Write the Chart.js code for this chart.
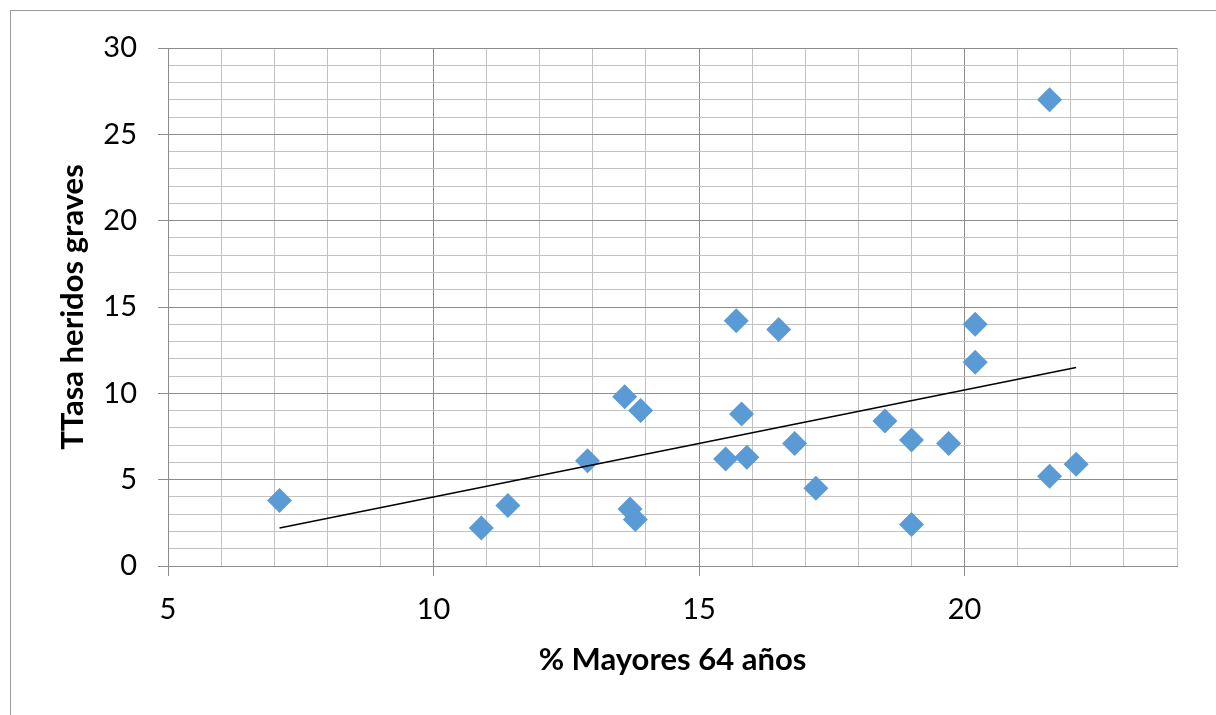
<!DOCTYPE html>
<html>
<head>
<meta charset="utf-8">
<script src="https://cdn.jsdelivr.net/npm/chart.js@4.4.0/dist/chart.umd.min.js"></script>
<style>
  html, body { margin: 0; padding: 0; background: #fff; overflow: hidden; }
  #wrap { position: relative; width: 1216px; height: 715px; }
  #frame { position: absolute; left: 10px; top: 10px; width: 1300px; height: 800px; border: 1px solid #9a9a9a; }
  canvas { position: absolute; left: 0; top: 0; }
</style>
</head>
<body>
<div id="wrap">
  <div id="frame"></div>
  <canvas id="chart" width="1216" height="715"></canvas>
</div>
<script>
// % mayores de 64 años por provincia y tasa de heridos graves
const mayores64 = [7.1, 10.9, 11.4, 12.9, 13.6, 13.9, 13.7, 13.8, 15.5, 15.9, 15.7, 16.5,
                   15.8, 16.8, 17.2, 18.5, 19.0, 19.7, 19.0, 20.2, 20.2, 21.6, 22.1, 21.6];
const heridosGraves = [3.8, 2.2, 3.5, 6.1, 9.8, 9.0, 3.3, 2.7, 6.2, 6.3, 14.2, 13.7,
                       8.8, 7.1, 4.5, 8.4, 7.3, 7.1, 2.4, 14.0, 11.8, 27.0, 5.9, 5.2];

// linea de tendencia (extremos)
const trendX = [7.1, 22.1];
const trendY = [2.2, 11.5];

const font = 'Lato, "Open Sans", sans-serif';
const gridMajor = '#8c8c8c';
const gridMinor = '#c2c2c2';

const gridColor = (ctx) => (ctx.tick && ctx.tick.value % 5 === 0) ? gridMajor : gridMinor;
const tickColor = (ctx) => (ctx.tick && ctx.tick.value % 5 === 0) ? gridMajor : 'rgba(0,0,0,0)';
const majorLabel = (v) => (v % 5 === 0 ? v : '');

new Chart(document.getElementById('chart'), {
  type: 'scatter',
  data: {
    datasets: [
      {
        type: 'line',
        data: trendX.map((x, i) => ({ x, y: trendY[i] })),
        borderColor: '#000',
        borderWidth: 1.5,
        pointRadius: 0,
        fill: false,
      },
      {
        data: mayores64.map((x, i) => ({ x, y: heridosGraves[i] })),
        pointStyle: 'rectRot',
        pointRadius: 12.5,
        pointBackgroundColor: '#5b9bd5',
        pointBorderWidth: 0,
      },
    ],
  },
  options: {
    responsive: false,
    animation: false,
    devicePixelRatio: 1,
    layout: { padding: { left: 0, right: 39, top: 48, bottom: 0 } },
    plugins: {
      legend: { display: false },
      tooltip: { enabled: false },
    },
    scales: {
      x: {
        type: 'linear',
        min: 5,
        max: 24,
        afterFit: (s) => { s.height = 149; },
        border: { color: gridMajor, width: 1 },
        grid: { color: gridColor, tickColor: tickColor, tickLength: 10, lineWidth: 1 },
        ticks: {
          stepSize: 1,
          autoSkip: false,
          maxRotation: 0,
          padding: 16,
          color: '#000',
          font: { family: font, size: 29 },
          callback: majorLabel,
        },
        title: {
          display: true,
          text: '% Mayores 64 años',
          color: '#000',
          font: { family: font, size: 31, weight: 'bold' },
          padding: { top: 0, bottom: 36 },
        },
      },
      y: {
        min: 0,
        max: 30,
        afterFit: (s) => { s.width = 168; },
        border: { color: gridMajor, width: 1 },
        grid: { color: gridColor, tickColor: tickColor, tickLength: 10, lineWidth: 1 },
        ticks: {
          stepSize: 1,
          autoSkip: false,
          padding: 21,
          color: '#000',
          font: { family: font, size: 29 },
          callback: majorLabel,
        },
        title: {
          display: true,
          text: 'TTasa heridos graves',
          color: '#000',
          font: { family: font, size: 31, weight: 'bold' },
          padding: { top: 54, bottom: 0 },
        },
      },
    },
  },
});
</script>
</body>
</html>
